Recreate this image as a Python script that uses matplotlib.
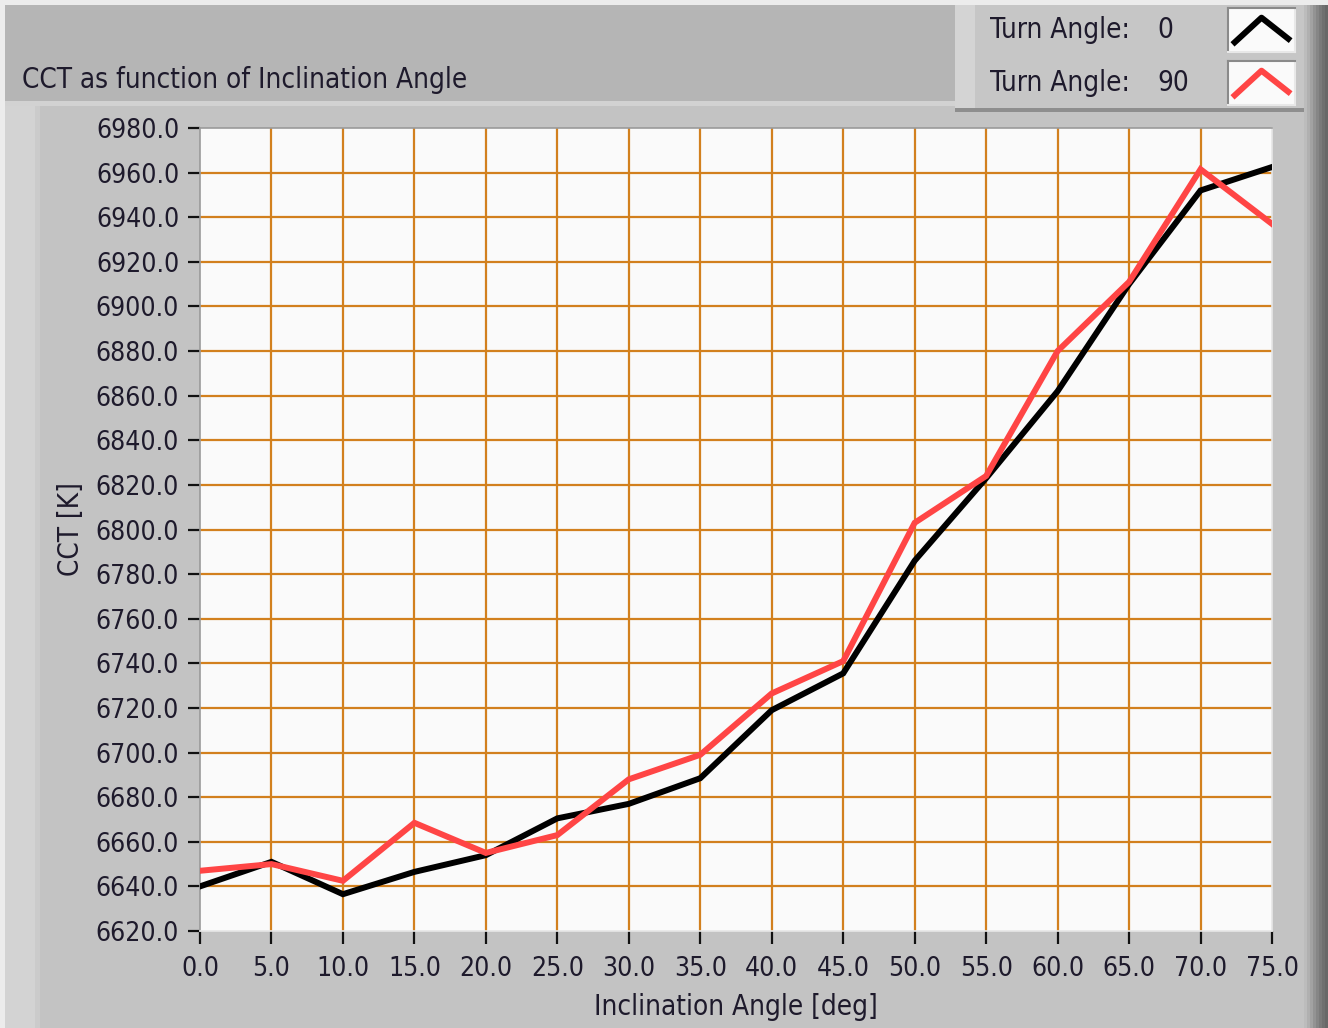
import matplotlib
matplotlib.use('Agg')
import matplotlib.pyplot as plt
from matplotlib.patches import Rectangle

# data
angles = [0, 5, 10, 15, 20, 25, 30, 35, 40, 45, 50, 55, 60, 65, 70, 75]
cct_turn0 = [6640, 6651, 6636.5, 6646.5, 6654, 6670.5, 6677, 6688.5, 6719, 6735.5,
             6786, 6823, 6862, 6910, 6952, 6962.5]
cct_turn90 = [6647, 6650, 6642.5, 6668.5, 6655, 6663, 6688, 6699, 6726.5, 6741,
              6803, 6824, 6880, 6911, 6961.5, 6937]
series_labels = ['Turn Angle:  0', 'Turn Angle:  90']
series_colors = ['#000000', '#ff4545']

x_ticks = list(range(0, 80, 5))
y_ticks = list(range(6620, 7000, 20))

plt.rcParams['font.family'] = ['DejaVu Sans']
plt.rcParams['font.stretch'] = 'condensed'
txt_color = '#1e1a2c'
grid_color = '#d2801e'

W, H = 1328, 1028
fig = plt.figure(figsize=(W / 100, H / 100), dpi=100)
fig.patch.set_facecolor('#b5b5b5')


def px_rect(x0, y0, x1, y1, color):
    fig.patches.append(Rectangle((x0 / W, 1 - y1 / H), (x1 - x0) / W, (y1 - y0) / H,
                                 transform=fig.transFigure, facecolor=color,
                                 edgecolor='none', zorder=-5))


# panel background (LabVIEW style frame)
px_rect(0, 0, W, 5, '#ececec')
px_rect(0, 0, 5, H, '#ececec')
px_rect(5, 101, 955, 106, '#d2d2d2')
px_rect(5, 106, 1310, H, '#c3c3c3')
px_rect(5, 106, 35, H, '#d3d3d3')
px_rect(35, 106, 40, H, '#cbcbcb')
for i, c in enumerate(['#bcbcbc', '#b0b0b0', '#a2a2a2', '#939393', '#868686',
                       '#7a7a7a', '#707070', '#686868']):
    px_rect(1304 + i * 3, 5, 1307 + i * 3, H, c)

# legend box
px_rect(955, 5, 1304, 110, '#c6c6c6')
px_rect(955, 5, 975, 110, '#d4d4d4')
px_rect(955, 108, 1304, 112, '#8e8e8e')

fig.text(22 / W, 1 - 80 / H, 'CCT as function of Inclination Angle', fontsize=20,
         color=txt_color, va='center', ha='left')

ax = fig.add_axes([200 / W, 1 - 931 / H, 1072 / W, 803 / H])
ax.set_zorder(2)
ax.set_facecolor('#fafafa')
for lab, vals, col in zip(series_labels, [cct_turn0, cct_turn90], series_colors):
    ax.plot(angles, vals, color=col, linewidth=4.3, solid_joinstyle='miter', zorder=3)

ax.set_xlim(0, 75)
ax.set_ylim(6620, 6980)
ax.set_xticks(x_ticks)
ax.set_yticks(y_ticks)
ax.set_xticklabels([f'{v:.1f}' for v in x_ticks])
ax.set_yticklabels([f'{v:.1f}' for v in y_ticks])
ax.grid(True, color=grid_color, linewidth=1.6, zorder=1)
for gl in [ax.get_xgridlines()[0], ax.get_xgridlines()[-1],
           ax.get_ygridlines()[0], ax.get_ygridlines()[-1]]:
    gl.set_visible(False)
ax.tick_params(axis='both', direction='out', length=9, width=1.6, color='#111111',
               labelsize=19, labelcolor=txt_color)
ax.tick_params(axis='y', pad=6)
ax.tick_params(axis='x', pad=9)
ax.spines['left'].set_color('#9a9a9a')
ax.spines['top'].set_color('#9a9a9a')
ax.spines['right'].set_color('#e6e6e6')
ax.spines['bottom'].set_color('#e6e6e6')
for s in ax.spines.values():
    s.set_linewidth(1.2)

ax.set_xlabel('Inclination Angle [deg]', fontsize=20, color=txt_color, labelpad=8)
ax.set_ylabel('CCT [K]', fontsize=20, color=txt_color, labelpad=8)

# legend entries with LabVIEW-like plot swatches
rows_y = [30, 83]
for lab, col, yc in zip(series_labels, series_colors, rows_y):
    name, val = lab.split(':')
    fig.text(990 / W, 1 - yc / H, name + ':', fontsize=20, color=txt_color,
             va='center', ha='left')
    fig.text(1157 / W, 1 - yc / H, val.strip(), fontsize=20, color=txt_color,
             va='center', ha='left')
    sw = fig.add_axes([1228 / W, 1 - (yc + 22) / H, 67 / W, 44 / H])
    sw.set_zorder(2)
    sw.set_facecolor('#fafafa')
    sw.plot([0.1, 0.5, 0.9], [0.22, 0.78, 0.3], color=col, linewidth=4.3)
    sw.set_xlim(0, 1)
    sw.set_ylim(0, 1)
    sw.set_xticks([])
    sw.set_yticks([])
    for k, s in sw.spines.items():
        s.set_color('#8a8a8a' if k in ('left', 'top') else '#e8e8e8')
        s.set_linewidth(1.5)

fig.savefig('out.png', dpi=100, facecolor=fig.get_facecolor())
